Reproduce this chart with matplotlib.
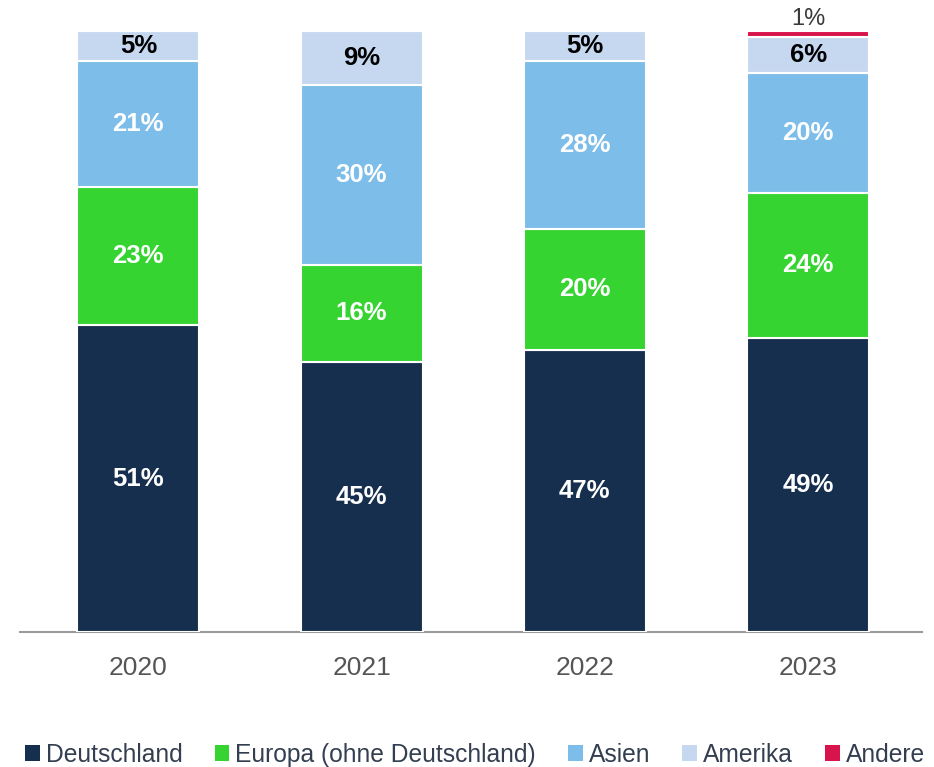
import matplotlib
matplotlib.use("Agg")
import matplotlib.pyplot as plt
from matplotlib.patches import Patch
import numpy as np

plt.rcParams["font.family"] = ["Liberation Sans", "DejaVu Sans"]

years = ["2020", "2021", "2022", "2023"]
deutschland = [51, 45, 47, 49]
europa = [23, 16, 20, 24]
asien = [21, 30, 28, 20]
amerika = [5, 9, 5, 6]
andere = [0, 0, 0, 1]

series = [
    ("Deutschland", deutschland, "#162f4e", "white"),
    ("Europa (ohne Deutschland)", europa, "#35d431", "white"),
    ("Asien", asien, "#7dbde9", "white"),
    ("Amerika", amerika, "#c6d8f0", "black"),
    ("Andere", andere, "#d7144b", "#3a3a3a"),
]

fig = plt.figure(figsize=(9.34, 7.67), dpi=100)
ax = fig.add_axes([0.0214, 0.176, 0.9657, 0.7836])

x = np.arange(len(years))
bottom = np.zeros(len(years))
for name, vals, color, tcol in series:
    vals = np.array(vals, dtype=float)
    ax.bar(x, vals, width=0.546, bottom=bottom, color=color,
           edgecolor="white", linewidth=1.5, label=name)
    for i, v in enumerate(vals):
        if v <= 0:
            continue
        if name == "Andere":
            # tiny slice: label sits above the bar
            ax.text(x[i], bottom[i] + v + 0.2, f"{int(v)}%", ha="center",
                    va="bottom", color=tcol, fontsize=17, clip_on=False)
        else:
            ax.text(x[i], bottom[i] + v / 2, f"{int(v)}%", ha="center",
                    va="center", color=tcol, fontsize=18.5, fontweight="bold")
    bottom += vals

ax.set_xlim(-0.53, 3.51)
ax.set_ylim(0, 100)
ax.set_yticks([])
ax.set_xticks(x, labels=years)
ax.tick_params(axis="x", length=0, pad=17, labelsize=19, labelcolor="#555555")
for s in ["top", "right", "left"]:
    ax.spines[s].set_visible(False)
ax.spines["bottom"].set_color("#9a9a9a")
ax.spines["bottom"].set_linewidth(1.5)
ax.spines["bottom"].set_zorder(0)

handles = [Patch(facecolor=c, edgecolor="none") for _, _, c, _ in series]
labels = [n for n, _, _, _ in series]
fig.legend(handles, labels, loc="center", bbox_to_anchor=(0.5086, 0.016),
           ncol=5, frameon=False, fontsize=17.7, handlelength=0.6,
           handleheight=0.6, handletextpad=0.25, columnspacing=1.3,
           labelcolor="#333f50", borderpad=0)

fig.savefig("out.png", dpi=100)
